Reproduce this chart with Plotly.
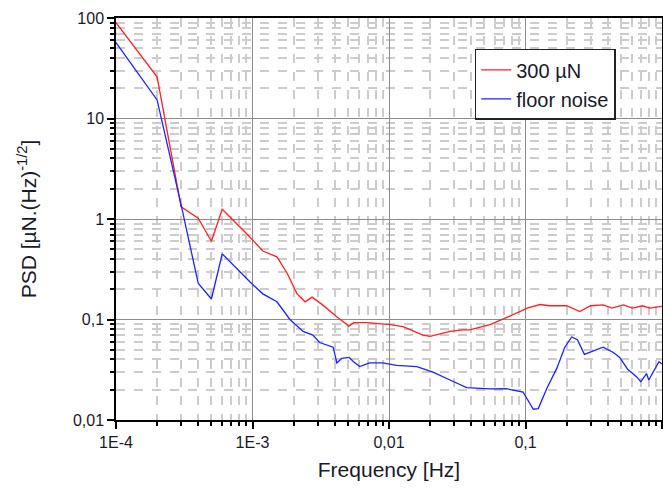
import plotly.graph_objects as go

# 300 µN series
red_f = [1e-4, 2e-4, 3e-4, 4e-4, 5e-4, 6e-4, 9.3e-4, 1.19e-3, 1.51e-3, 1.79e-3, 2.12e-3, 2.43e-3,
         2.73e-3, 3.28e-3, 4.16e-3, 5.09e-3, 5.5e-3, 6.9e-3, 0.0102, 0.0127, 0.0177, 0.020, 0.028,
         0.035, 0.039, 0.055, 0.0745, 0.103, 0.128, 0.15, 0.20, 0.25, 0.30, 0.37, 0.43, 0.52,
         0.61, 0.72, 0.81, 0.96, 1.0]
red_v = [90, 26, 1.32, 1.02, 0.60, 1.25, 0.69, 0.48, 0.42, 0.29, 0.18, 0.15,
         0.167, 0.139, 0.106, 0.086, 0.093, 0.093, 0.089, 0.085, 0.070, 0.068, 0.076,
         0.079, 0.079, 0.089, 0.106, 0.13, 0.141, 0.137, 0.137, 0.12, 0.137, 0.14, 0.13, 0.14,
         0.13, 0.137, 0.13, 0.135, 0.135]

# floor noise series
blue_f = [1e-4, 2e-4, 3e-4, 4e-4, 5e-4, 6e-4, 9.6e-4, 1.19e-3, 1.51e-3, 1.88e-3, 2.35e-3, 2.77e-3,
          3.1e-3, 3.9e-3, 4.15e-3, 4.5e-3, 5.1e-3, 5.5e-3, 6.1e-3, 7.2e-3, 9.0e-3, 0.0114, 0.016,
          0.021, 0.028, 0.037, 0.055, 0.072, 0.096, 0.104, 0.114, 0.124, 0.143, 0.17, 0.194,
          0.218, 0.24, 0.27, 0.31, 0.37, 0.44, 0.49, 0.56, 0.65, 0.70, 0.77, 0.80, 0.95, 1.0]
blue_v = [57, 15.3, 1.38, 0.23, 0.16, 0.45, 0.236, 0.18, 0.15, 0.10, 0.076, 0.070,
          0.059, 0.053, 0.037, 0.041, 0.042, 0.038, 0.034, 0.037, 0.037, 0.035, 0.034,
          0.030, 0.025, 0.021, 0.0204, 0.0205, 0.019, 0.016, 0.0128, 0.013, 0.0205, 0.033, 0.053,
          0.067, 0.063, 0.045, 0.048, 0.053, 0.047, 0.042, 0.032, 0.027, 0.024, 0.029, 0.025, 0.038, 0.036]

x_tickvals = [1e-4, 1e-3, 1e-2, 1e-1, 1]
x_ticktext = ["1E-4", "1E-3", "0,01", "0,1", "1"]
y_tickvals = [0.01, 0.1, 1, 10, 100]
y_ticktext = ["0,01", "0,1", "1", "10", "100"]

x_minor = [m * 10 ** e for e in range(-4, 0) for m in range(2, 10)]
y_minor = [m * 10 ** e for e in range(-2, 2) for m in range(2, 10)]

font_family = "Liberation Sans, Arial, sans-serif"
text_color = "#1a1a2a"

fig = go.Figure()
fig.add_trace(go.Scatter(x=red_f, y=red_v, mode="lines", name="300 µN",
                         line=dict(color="#ff2020", width=1.3)))
fig.add_trace(go.Scatter(x=blue_f, y=blue_v, mode="lines", name="floor noise",
                         line=dict(color="#2020ff", width=1.3)))

axis_common = dict(
    showline=True, linecolor="black", linewidth=1.5, mirror=True,
    ticks="outside", ticklen=7, tickcolor="black", tickwidth=1.5,
    showgrid=True, gridcolor="#8c8c8c", gridwidth=1,
    zeroline=False, automargin=False,
    tickfont=dict(size=16, color=text_color, family=font_family),
)

fig.update_xaxes(type="log", range=[-4, 0], tickmode="array", tickvals=x_tickvals,
                 ticktext=x_ticktext,
                 title=dict(text="Frequency [Hz]", font=dict(size=21, color=text_color), standoff=12),
                 minor=dict(tickmode="array", tickvals=x_minor, ticks="outside", ticklen=4,
                            tickcolor="black", showgrid=True, gridcolor="#cccccc",
                            griddash="dash", gridwidth=1.5),
                 **axis_common)
fig.update_yaxes(type="log", range=[-2, 2], tickmode="array", tickvals=y_tickvals,
                 ticktext=y_ticktext,
                 title=dict(text="PSD [µN.(Hz)<sup>-1/2</sup>]", font=dict(size=21, color=text_color), standoff=31),
                 minor=dict(tickmode="array", tickvals=y_minor, ticks="outside", ticklen=4,
                            tickcolor="black", showgrid=True, gridcolor="#cccccc",
                            griddash="dash", gridwidth=1.5),
                 **axis_common)

fig.update_layout(
    width=663, height=490,
    margin=dict(l=116, r=1, t=18, b=70),
    paper_bgcolor="white", plot_bgcolor="white",
    font=dict(family=font_family, color=text_color),
    showlegend=True,
    legend=dict(x=0.657, y=0.923, xanchor="left", yanchor="top",
                bgcolor="white", bordercolor="#222", borderwidth=1.5,
                font=dict(size=20, family=font_family, color=text_color),
                tracegroupgap=0, itemwidth=30),
)

fig.write_html("out.html")
